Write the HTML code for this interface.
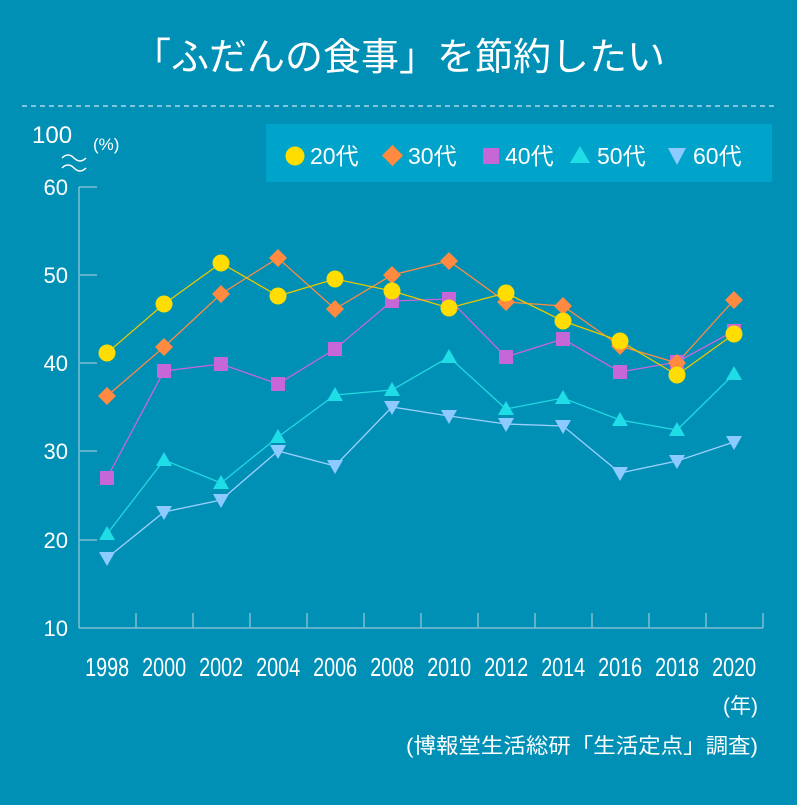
<!DOCTYPE html><html><head><meta charset="utf-8"><style>
body{margin:0;background:#0090b6;}
svg text{font-family:"Liberation Sans","Noto Sans CJK JP",sans-serif;fill:#fff}
</style></head><body>
<svg width="797" height="800" xmlns="http://www.w3.org/2000/svg">
<rect width="797" height="800" fill="#0090b6"/>
<text x="399" y="70" font-size="38" text-anchor="middle">「ふだんの食事」を節約したい</text>
<line x1="22" y1="106" x2="775" y2="106" stroke="#a8d8e8" stroke-width="1.5" stroke-dasharray="5,4"/>
<rect x="266" y="124" width="506" height="58" fill="#00a3c9"/>
<g font-size="23">
<circle cx="295" cy="156" r="9.5" fill="#ffdd00"/><text x="310" y="164">20代</text>
<rect x="385" y="148" width="15" height="15" fill="#ff8a40" transform="rotate(45 392.5 155.5)"/><text x="408" y="164">30代</text>
<rect x="483" y="148" width="16" height="16" fill="#c766d6"/><text x="505" y="164">40代</text>
<polygon points="580,146 590,163 570,163" fill="#1fdde6"/><text x="597" y="164">50代</text>
<polygon points="668,148 686,148 677,165" fill="#8ccaff"/><text x="693" y="164">60代</text>
</g>
<text x="32" y="143" font-size="24">100</text>
<text x="93" y="150" font-size="17">(%)</text>
<path d="M62,158 q6,-6 12,0 t12,0 M62,168 q6,-6 12,0 t12,0" stroke="#fff" fill="none" stroke-width="1.5"/>
<g font-size="22" text-anchor="end">
<text x="68" y="195">60</text><text x="68" y="283">50</text><text x="68" y="371">40</text><text x="68" y="459">30</text><text x="68" y="548">20</text><text x="68" y="636">10</text>
</g>
<g stroke="#7fbdd3" stroke-width="1.5">
<line x1="79" y1="187" x2="79" y2="628"/><line x1="79" y1="187" x2="97" y2="187"/><line x1="79" y1="275" x2="97" y2="275"/><line x1="79" y1="363" x2="97" y2="363"/><line x1="79" y1="451" x2="97" y2="451"/><line x1="79" y1="540" x2="97" y2="540"/>
<line x1="79" y1="628" x2="763" y2="628"/>
<line x1="136" y1="613" x2="136" y2="628"/><line x1="193" y1="613" x2="193" y2="628"/><line x1="250" y1="613" x2="250" y2="628"/><line x1="307" y1="613" x2="307" y2="628"/><line x1="364" y1="613" x2="364" y2="628"/><line x1="421" y1="613" x2="421" y2="628"/><line x1="478" y1="613" x2="478" y2="628"/><line x1="535" y1="613" x2="535" y2="628"/><line x1="592" y1="613" x2="592" y2="628"/><line x1="649" y1="613" x2="649" y2="628"/><line x1="706" y1="613" x2="706" y2="628"/><line x1="763" y1="613" x2="763" y2="628"/>
</g>
<g font-size="26" text-anchor="middle" transform="scale(0.76,1)">
<text x="141" y="676">1998</text><text x="216" y="676">2000</text><text x="291" y="676">2002</text><text x="366" y="676">2004</text><text x="441" y="676">2006</text><text x="516" y="676">2008</text><text x="591" y="676">2010</text><text x="666" y="676">2012</text><text x="741" y="676">2014</text><text x="816" y="676">2016</text><text x="891" y="676">2018</text><text x="966" y="676">2020</text>
</g>
<text x="758" y="713" font-size="21" text-anchor="end">(年)</text>
<text x="758" y="753" font-size="21" text-anchor="end" textLength="352" lengthAdjust="spacingAndGlyphs">(博報堂生活総研「生活定点」調査)</text>
<g fill="none" stroke-width="1.3">
<polyline stroke="#9cd0ff" points="107,558 164,512 221,500 278,451 335,466 392,407 449,416 506,424 563,426 620,473 677,461 734,442"/>
<polyline stroke="#22d8e2" points="107,534 164,460 221,483 278,437 335,395 392,390 449,357 506,409 563,398 620,420 677,430 734,374"/>
<polyline stroke="#c766d6" points="107,478 164,371 221,364 278,384 335,349 392,301 449,299 506,357 563,339 620,372 677,362 734,331"/>
<polyline stroke="#ff8a40" points="107,396 164,347 221,294 278,258 335,309 392,275 449,261 506,302 563,306 620,346 677,363 734,300"/>
<polyline stroke="#e8c800" points="107,353 164,304 221,263 278,296 335,279 392,291 449,308 506,293 563,321 620,341 677,375 734,334"/>
</g>
<g fill="#8ccaff">
<polygon points="99,552 115,552 107,566"/><polygon points="156,506 172,506 164,520"/><polygon points="213,494 229,494 221,508"/><polygon points="270,445 286,445 278,459"/><polygon points="327,460 343,460 335,474"/><polygon points="384,401 400,401 392,415"/><polygon points="441,410 457,410 449,424"/><polygon points="498,418 514,418 506,432"/><polygon points="555,420 571,420 563,434"/><polygon points="612,467 628,467 620,481"/><polygon points="669,455 685,455 677,469"/><polygon points="726,436 742,436 734,450"/>
</g>
<g fill="#1fdde6">
<polygon points="107,526 115,540 99,540"/><polygon points="164,452 172,466 156,466"/><polygon points="221,475 229,489 213,489"/><polygon points="278,429 286,443 270,443"/><polygon points="335,387 343,401 327,401"/><polygon points="392,382 400,396 384,396"/><polygon points="449,349 457,363 441,363"/><polygon points="506,401 514,415 498,415"/><polygon points="563,390 571,404 555,404"/><polygon points="620,412 628,426 612,426"/><polygon points="677,422 685,436 669,436"/><polygon points="734,366 742,380 726,380"/>
</g>
<g fill="#c766d6">
<rect x="100" y="471" width="14" height="14"/><rect x="157" y="364" width="14" height="14"/><rect x="214" y="357" width="14" height="14"/><rect x="271" y="377" width="14" height="14"/><rect x="328" y="342" width="14" height="14"/><rect x="385" y="294" width="14" height="14"/><rect x="442" y="292" width="14" height="14"/><rect x="499" y="350" width="14" height="14"/><rect x="556" y="332" width="14" height="14"/><rect x="613" y="365" width="14" height="14"/><rect x="670" y="355" width="14" height="14"/><rect x="727" y="324" width="14" height="14"/>
</g>
<g fill="#ff8a40">
<polygon points="107,387 116,396 107,405 98,396"/><polygon points="164,338 173,347 164,356 155,347"/><polygon points="221,285 230,294 221,303 212,294"/><polygon points="278,249 287,258 278,267 269,258"/><polygon points="335,300 344,309 335,318 326,309"/><polygon points="392,266 401,275 392,284 383,275"/><polygon points="449,252 458,261 449,270 440,261"/><polygon points="506,293 515,302 506,311 497,302"/><polygon points="563,297 572,306 563,315 554,306"/><polygon points="620,337 629,346 620,355 611,346"/><polygon points="677,354 686,363 677,372 668,363"/><polygon points="734,291 743,300 734,309 725,300"/>
</g>
<g fill="#ffdd00">
<circle cx="107" cy="353" r="8.5"/><circle cx="164" cy="304" r="8.5"/><circle cx="221" cy="263" r="8.5"/><circle cx="278" cy="296" r="8.5"/><circle cx="335" cy="279" r="8.5"/><circle cx="392" cy="291" r="8.5"/><circle cx="449" cy="308" r="8.5"/><circle cx="506" cy="293" r="8.5"/><circle cx="563" cy="321" r="8.5"/><circle cx="620" cy="341" r="8.5"/><circle cx="677" cy="375" r="8.5"/><circle cx="734" cy="334" r="8.5"/>
</g>
</svg></body></html>
